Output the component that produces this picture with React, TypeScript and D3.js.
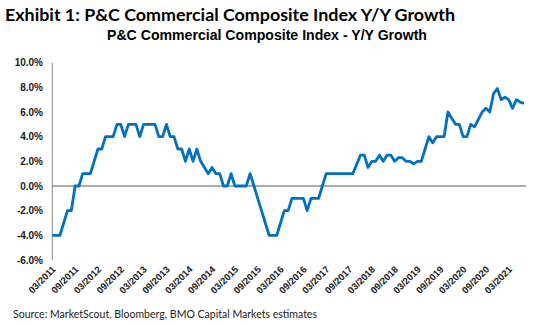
import React from "react";
import * as d3 from "d3";

const TITLE = "Exhibit 1: P&C Commercial Composite Index Y/Y Growth";
const SUBTITLE = "P&C Commercial Composite Index - Y/Y Growth";
const SOURCE = "Source: MarketScout, Bloomberg, BMO Capital Markets estimates";

const START_YEAR = 2011;
const START_MONTH = 3;

// Monthly Y/Y growth (%) from 03/2011 to 07/2021
const growth: number[] = [
  -4, -4, -4, -3, -2, -2, 0, 0, 1, 1,
  1, 2, 3, 3, 4, 4, 4, 5, 5, 4,
  5, 5, 5, 4, 5, 5, 5, 5, 4, 4,
  5, 4, 4, 3, 3, 2, 3, 2, 3, 2,
  1.5, 1, 1.5, 1, 1, 0, 0, 1, 0, 0,
  0, 0, 1, 0, -1, -2, -3, -4, -4, -4,
  -3, -2, -2, -1, -1, -1, -1, -2, -1, -1,
  -1, 0, 1, 1, 1, 1, 1, 1, 1, 1,
  1.75, 2.5, 2.5, 1.5, 2, 2, 2.5, 2, 2.5, 2.5,
  2, 2.3, 2.3, 2, 2, 1.8, 2, 2, 3, 4,
  3.5, 4, 4, 4, 6, 5.5, 5, 5, 4, 4,
  5, 4.8, 5.4, 6, 6.3, 6, 7.5, 7.9, 7, 7.2,
  7, 6.3, 7, 6.8, 6.7,
];

const yTicks: number[] = [-6, -4, -2, 0, 2, 4, 6, 8, 10];
const labelEvery = 6;

function monthLabel(i: number): string {
  const m0 = START_MONTH - 1 + i;
  const year = START_YEAR + Math.floor(m0 / 12);
  const month = (m0 % 12) + 1;
  return `${String(month).padStart(2, "0")}/${year}`;
}

export default function App() {
  const W = 536;
  const H = 325;
  const left = 52.3;
  const right = 524;
  const top = 62.7;
  const bottom = 260;

  const x = d3.scaleLinear().domain([0, growth.length - 1]).range([left, right]);
  const y = d3.scaleLinear().domain([-6, 10]).range([bottom, top]);

  const line = d3
    .line<number>()
    .x((_, i) => x(i))
    .y((d) => y(d));

  const labelIdx = d3.range(0, growth.length, labelEvery);

  return (
    <svg
      width={W}
      height={H}
      viewBox={`0 0 ${W} ${H}`}
      style={{ position: "absolute", left: 0, top: 0, background: "#fff" }}
    >
      <text
        x={5}
        y={20.7}
        fontFamily="Lato, 'Open Sans', sans-serif"
        fontWeight={700}
        fontSize={17}
        fill="#000"
        textLength={450}
        lengthAdjust="spacingAndGlyphs"
      >
        {TITLE}
      </text>
      <text
        x={107}
        y={39.5}
        fontFamily="'Liberation Sans', Arial, sans-serif"
        fontWeight={700}
        fontSize={14}
        fill="#000"
        textLength={320}
        lengthAdjust="spacingAndGlyphs"
      >
        {SUBTITLE}
      </text>

      {/* y axis line */}
      <line x1={left} x2={left} y1={y(10)} y2={y(-6)} stroke="#868686" strokeWidth={1} />
      {/* zero line */}
      <line x1={left} x2={right + 2} y1={y(0)} y2={y(0)} stroke="#595959" strokeWidth={1} />

      {yTicks.map((t) => (
        <text
          key={t}
          x={43}
          y={y(t) + 3.6}
          textAnchor="end"
          fontFamily="'Liberation Sans', Arial, sans-serif"
          fontWeight={700}
          fontSize={10}
          fill="#1a1a1a"
        >
          {`${t.toFixed(1)}%`}
        </text>
      ))}

      {labelIdx.map((i) => (
        <text
          key={i}
          transform={`translate(${x(i) + 4},${270}) rotate(-45)`}
          textAnchor="end"
          fontFamily="'Liberation Sans', Arial, sans-serif"
          fontWeight={700}
          fontSize={9.5}
          fill="#1a1a1a"
        >
          {monthLabel(i)}
        </text>
      ))}

      <path
        d={line(growth) || ""}
        fill="none"
        stroke="#0070C0"
        strokeWidth={2.8}
        strokeLinejoin="round"
      />

      <text
        x={13}
        y={318}
        fontFamily="Lato, 'Open Sans', sans-serif"
        fontSize={11}
        fill="#222"
        textLength={304}
        lengthAdjust="spacingAndGlyphs"
      >
        {SOURCE}
      </text>
    </svg>
  );
}
